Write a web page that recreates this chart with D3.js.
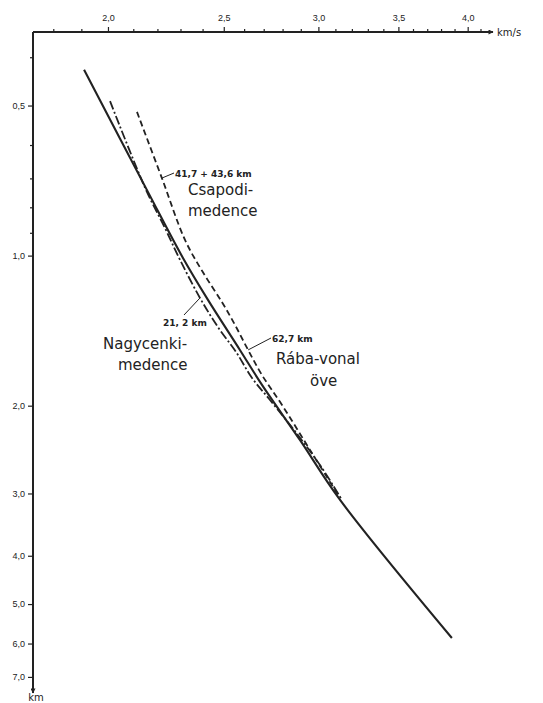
<!DOCTYPE html>
<html>
<head>
<meta charset="utf-8">
<script src="https://cdn.jsdelivr.net/npm/d3@7"></script>
<style>
  body { margin: 0; background: #fff; }
  svg { display: block; font-family: "DejaVu Sans", sans-serif; }
</style>
</head>
<body>
<div id="chart"></div>
<script>
// velocity (km/s) vs depth (km), both log scaled
const velocityMajor = [2.0, 2.5, 3.0, 3.5, 4.0];
const velocityMinor = [1.8, 1.9, 2.1, 2.2, 2.3, 2.4, 2.6, 2.7, 2.8, 2.9, 3.1, 3.2, 3.3, 3.4, 3.6, 3.7, 3.8, 3.9, 4.1];
const depthMajor = [0.5, 1.0, 2.0, 3.0, 4.0, 5.0, 6.0, 7.0];
const depthMinor = [0.4, 0.6, 0.7, 0.8, 0.9];

// Rába-vonal öve, 62,7 km (solid)
const raba = [
    [1.910, 0.424], [2.160, 0.745], [2.311, 1.011], [2.425, 1.227], [2.579, 1.546],
    [2.691, 1.817], [2.895, 2.343], [3.128, 3.091], [3.880, 5.848]
];
// Nagycenki-medence, 21,2 km (dash-dot)
const nagycenki = [
    [2.008, 0.490], [2.152, 0.738], [2.232, 0.880], [2.298, 1.020], [2.388, 1.216],
    [2.472, 1.391], [2.560, 1.561], [2.640, 1.760], [2.733, 1.948], [2.884, 2.290],
    [3.021, 2.667], [3.139, 3.091]
];
// Csapodi-medence, 41,7 + 43,6 km (dashed)
const csapodi = [
    [2.115, 0.515], [2.219, 0.699], [2.320, 0.930], [2.401, 1.079], [2.491, 1.239],
    [2.555, 1.378], [2.620, 1.546], [2.691, 1.736], [2.797, 1.994], [2.952, 2.454],
    [3.116, 3.021]
];

const width = 543, height = 703;
const fmt = d3.formatLocale({ decimal: ",", thousands: ".", grouping: [3], currency: ["", ""] }).format(".1f");

const svg = d3.select("#chart").append("svg")
    .attr("width", width)
    .attr("height", height);

svg.append("rect").attr("width", width).attr("height", height).attr("fill", "#fff");

const x = d3.scaleLog().domain([1.731, 4.2]).range([33, 493]);
const y = d3.scaleLog().domain([0.356, 7.3]).range([32, 686]);

const ink = "#222";

// arrow heads
const defs = svg.append("defs");
defs.append("marker")
    .attr("id", "arrow")
    .attr("viewBox", "0 0 10 10")
    .attr("refX", 9).attr("refY", 5)
    .attr("markerWidth", 7).attr("markerHeight", 5)
    .attr("markerUnits", "userSpaceOnUse")
    .attr("orient", "auto")
    .append("path")
    .attr("d", "M0,0 L10,5 L0,10 Z")
    .attr("fill", ink);

// axis lines
svg.append("line")
    .attr("x1", x(1.731)).attr("y1", y(0.356))
    .attr("x2", x(4.2)).attr("y2", y(0.356))
    .attr("stroke", ink).attr("stroke-width", 2)
    .attr("marker-end", "url(#arrow)");

svg.append("line")
    .attr("x1", x(1.731)).attr("y1", y(0.356))
    .attr("x2", x(1.731)).attr("y2", y(7.4) + 4)
    .attr("stroke", ink).attr("stroke-width", 2)
    .attr("marker-end", "url(#arrow)");

// top axis
const xAxisG = svg.append("g").attr("transform", `translate(0,${y(0.356)})`);
xAxisG.call(d3.axisTop(x).tickValues(velocityMajor).tickFormat(fmt).tickSize(5).tickPadding(6));
xAxisG.append("g").call(d3.axisTop(x).tickValues(velocityMinor).tickFormat("").tickSize(3));
xAxisG.selectAll(".domain").remove();
xAxisG.selectAll("line").attr("stroke", ink).attr("stroke-width", 1.2);
xAxisG.selectAll("text").attr("fill", ink).attr("font-size", 9);

// left axis
const yAxisG = svg.append("g").attr("transform", `translate(${x(1.731)},0)`);
yAxisG.call(d3.axisLeft(y).tickValues(depthMajor).tickFormat(fmt).tickSize(5).tickPadding(3));
yAxisG.append("g").call(d3.axisLeft(y).tickValues(depthMinor).tickFormat("").tickSize(3));
yAxisG.selectAll(".domain").remove();
yAxisG.selectAll("line").attr("stroke", ink).attr("stroke-width", 1.2);
yAxisG.selectAll("text").attr("fill", ink).attr("font-size", 9);

// unit labels
svg.append("text")
    .attr("x", x(4.2) + 4).attr("y", y(0.356) + 3.5)
    .attr("font-size", 10).attr("fill", ink)
    .text("km/s");
svg.append("text")
    .attr("x", x(1.731) + 3).attr("y", 701)
    .attr("text-anchor", "middle")
    .attr("font-size", 10).attr("fill", ink)
    .text("km");

// curves
const line = d3.line()
    .x(d => x(d[0]))
    .y(d => y(d[1]))
    .curve(d3.curveCatmullRom);

const curves = [
    { data: csapodi, dash: "6,3.5", w: 1.8 },
    { data: nagycenki, dash: "9,2.5,2,2.5", w: 1.8 },
    { data: raba, dash: null, w: 2.1 }
];

svg.selectAll(".curve")
    .data(curves)
    .enter()
    .append("path")
    .attr("class", "curve")
    .attr("d", d => line(d.data))
    .attr("fill", "none")
    .attr("stroke", ink)
    .attr("stroke-width", d => d.w)
    .attr("stroke-dasharray", d => d.dash);

// annotations: leader lines and labels
function leader(p, tx, ty) {
    svg.append("line")
        .attr("x1", x(p[0])).attr("y1", y(p[1]))
        .attr("x2", tx).attr("y2", ty)
        .attr("stroke", ink).attr("stroke-width", 1);
}

leader(csapodi[1], 174, 173);
svg.append("text").attr("x", 175).attr("y", 176.5)
    .attr("font-size", 9).attr("font-weight", "bold").attr("fill", ink)
    .text("41,7 + 43,6 km");
svg.append("text").attr("x", 188).attr("y", 195)
    .attr("font-size", 15).attr("fill", ink).text("Csapodi-");
svg.append("text").attr("x", 188).attr("y", 216)
    .attr("font-size", 15).attr("fill", ink).text("medence");

leader(nagycenki[4], 184, 315);
svg.append("text").attr("x", 163).attr("y", 326)
    .attr("font-size", 9).attr("font-weight", "bold").attr("fill", ink)
    .text("21, 2 km");
svg.append("text").attr("x", 103).attr("y", 349)
    .attr("font-size", 15).attr("fill", ink).text("Nagycenki-");
svg.append("text").attr("x", 118).attr("y", 370)
    .attr("font-size", 15).attr("fill", ink).text("medence");

leader(csapodi[6], 271, 338);
svg.append("text").attr("x", 272).attr("y", 341.5)
    .attr("font-size", 9).attr("font-weight", "bold").attr("fill", ink)
    .text("62,7 km");
svg.append("text").attr("x", 276).attr("y", 364)
    .attr("font-size", 15).attr("fill", ink).text("Rába-vonal");
svg.append("text").attr("x", 310).attr("y", 386)
    .attr("font-size", 15).attr("fill", ink).text("öve");
</script>
</body>
</html>
